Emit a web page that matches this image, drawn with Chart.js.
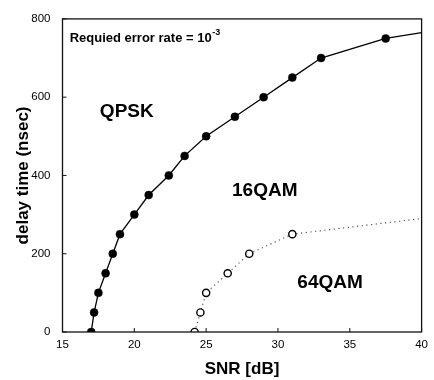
<!DOCTYPE html>
<html>
<head>
<meta charset="utf-8">
<script src="https://cdn.jsdelivr.net/npm/chart.js@4.4.1/dist/chart.umd.min.js"></script>
<style>
html,body{margin:0;padding:0;background:#fff;}
#wrap{width:434px;height:380px;position:relative;}
</style>
</head>
<body>
<div id="wrap"><canvas id="c" width="434" height="380"></canvas></div>
<script>
// ---- data ----
const qpskX = [17, 17.2, 17.5, 18, 18.5, 19, 20, 21, 22.4, 23.5, 25, 27, 29, 31, 33, 37.5, 40];
const qpskY = [0, 50, 100, 150, 200, 250, 300, 350, 400, 450, 500, 550, 600, 650, 700, 750, 765];
const qam64X = [24.2, 24.6, 25, 26.5, 28, 31, 40];
const qam64Y = [0, 50, 100, 150, 200, 250, 290];
const xTicks = [15, 20, 25, 30, 35, 40];
const yTicks = [0, 200, 400, 600, 800];
const xTitle = 'SNR [dB]';
const yTitle = 'delay time (nsec)';
const regionLabels = ['QPSK', '16QAM', '64QAM'];
const regionX = [17.6, 26.8, 31.35];
const regionY = [563, 362, 126];
const noteText = 'Requied error rate = 10';
const noteSup = '-3';
const noteX = 15.5;
const noteY = 750;

const toPts = (xs, ys) => xs.map((x, i) => ({x: x, y: ys[i]}));

const frameAndText = {
  id: 'frameAndText',
  afterDraw(chart) {
    const ctx = chart.ctx;
    const a = chart.chartArea;
    const sx = chart.scales.x, sy = chart.scales.y;
    ctx.save();
    // frame
    ctx.strokeStyle = '#111';
    ctx.lineWidth = 1.3;
    ctx.strokeRect(a.left, a.top, a.right - a.left, a.bottom - a.top);
    // inward ticks
    ctx.lineWidth = 1;
    ctx.beginPath();
    sx.ticks.forEach(t => {
      const px = sx.getPixelForValue(t.value);
      ctx.moveTo(px, a.bottom); ctx.lineTo(px, a.bottom - 4);
    });
    sy.ticks.forEach(t => {
      const py = sy.getPixelForValue(t.value);
      ctx.moveTo(a.left, py); ctx.lineTo(a.left + 4, py);
    });
    ctx.stroke();
    // region labels
    ctx.fillStyle = '#000';
    ctx.textBaseline = 'middle';
    ctx.textAlign = 'left';
    ctx.font = 'bold 19px "Liberation Sans", Arial, sans-serif';
    regionLabels.forEach((t, i) => {
      ctx.fillText(t, sx.getPixelForValue(regionX[i]), sy.getPixelForValue(regionY[i]));
    });
    // note with superscript
    ctx.font = 'bold 13px "Liberation Sans", Arial, sans-serif';
    const nx = sx.getPixelForValue(noteX), ny = sy.getPixelForValue(noteY);
    ctx.fillText(noteText, nx, ny);
    const w = ctx.measureText(noteText).width;
    ctx.font = 'bold 9px "Liberation Sans", Arial, sans-serif';
    ctx.fillText(noteSup, nx + w + 0.5, ny - 6);
    ctx.restore();
  }
};

new Chart(document.getElementById('c'), {
  type: 'scatter',
  data: {
    datasets: [
      {
        label: 'QPSK/16QAM',
        data: toPts(qpskX, qpskY),
        showLine: true,
        borderColor: '#000',
        borderWidth: 1.3,
        backgroundColor: '#000',
        pointBackgroundColor: '#000',
        pointBorderColor: '#000',
        pointRadius: ctx => ctx.dataIndex === qpskX.length - 1 ? 0 : 4,
        pointBorderWidth: 0.5,
        tension: 0
      },
      {
        label: '16QAM/64QAM',
        data: toPts(qam64X, qam64Y),
        showLine: true,
        borderColor: '#555',
        borderWidth: 1.2,
        borderDash: [1.2, 3.5],
        backgroundColor: '#fff',
        pointBackgroundColor: '#fff',
        pointBorderColor: '#000',
        pointRadius: ctx => ctx.dataIndex === qam64X.length - 1 ? 0 : 3.6,
        pointBorderWidth: 1.4,
        tension: 0
      }
    ]
  },
  options: {
    responsive: false,
    animation: false,
    devicePixelRatio: 1,
    layout: {autoPadding: false, padding: {top: 14, right: 6, left: 0, bottom: 0}},
    plugins: {legend: {display: false}, tooltip: {enabled: false}},
    scales: {
      x: {
        type: 'linear',
        min: 15, max: 40,
        afterBuildTicks: s => { s.ticks = xTicks.map(v => ({value: v})); },
        afterFit: s => { s.height = 48; },
        grid: {display: false, drawTicks: false},
        border: {display: false},
        ticks: {color: '#000', padding: 6, font: {family: '"Liberation Sans", Arial, sans-serif', size: 11.5}, maxRotation: 0},
        title: {display: true, text: xTitle, color: '#000', padding: {top: 0, bottom: 0},
                font: {family: '"Liberation Sans", Arial, sans-serif', size: 17, weight: 'bold'}}
      },
      y: {
        type: 'linear',
        min: 0, max: 800,
        afterBuildTicks: s => { s.ticks = yTicks.map(v => ({value: v})); },
        afterFit: s => { s.width = 62.5; },
        grid: {display: false, drawTicks: false},
        border: {display: false},
        ticks: {color: '#000', padding: 12, font: {family: '"Liberation Sans", Arial, sans-serif', size: 11.5}},
        title: {display: true, text: yTitle, color: '#000', padding: {top: 13, bottom: 0},
                font: {family: '"Liberation Sans", Arial, sans-serif', size: 17, weight: 'bold'}}
      }
    }
  },
  plugins: [frameAndText]
});
</script>
</body>
</html>
